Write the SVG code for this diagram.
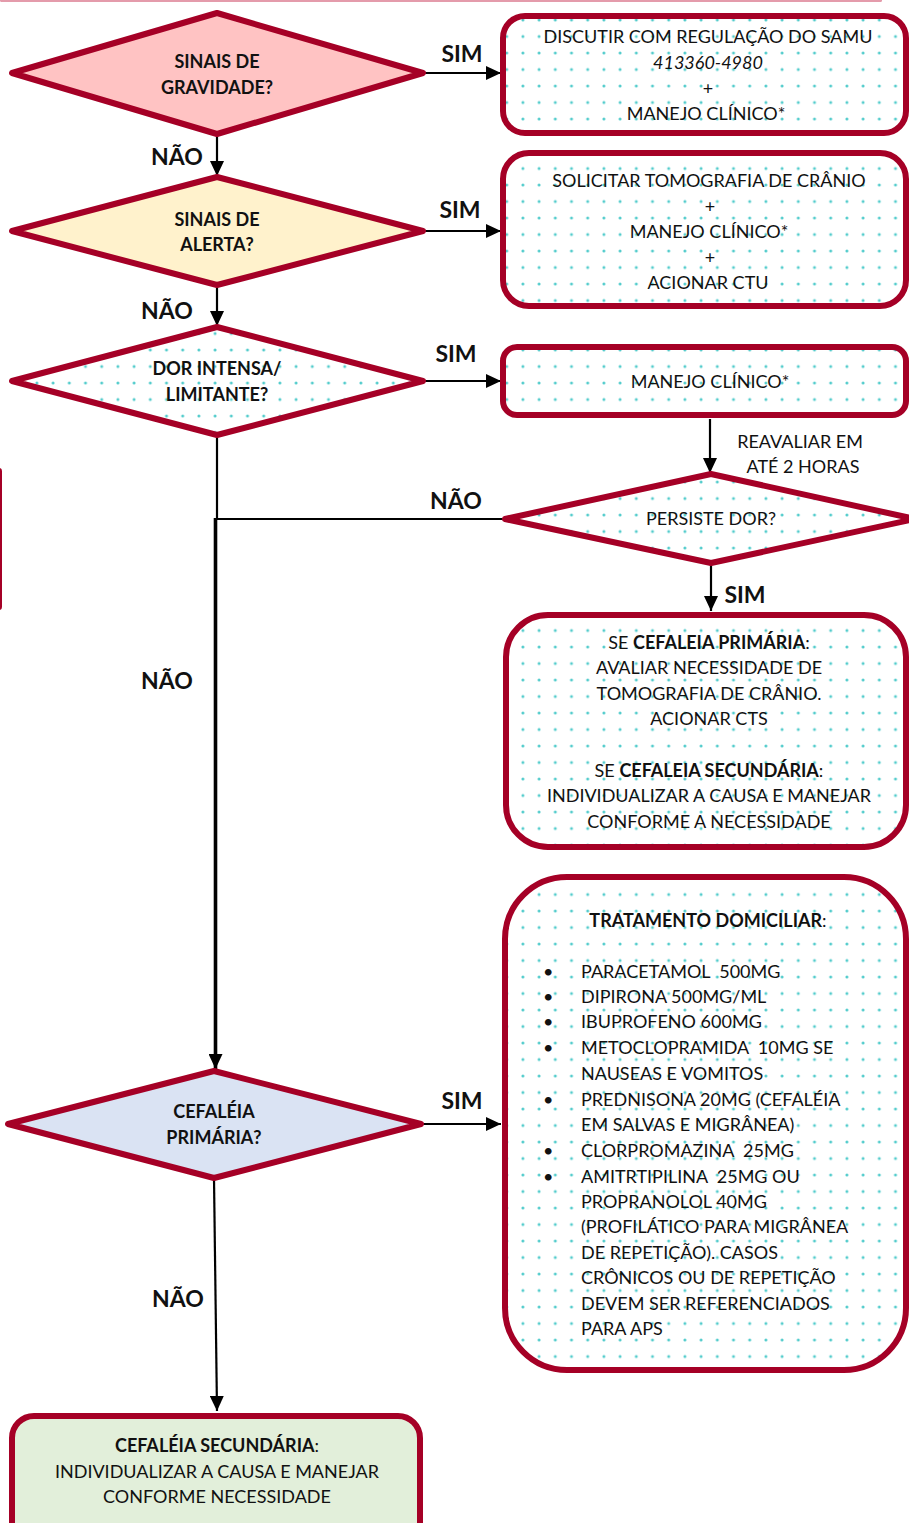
<svg xmlns="http://www.w3.org/2000/svg" width="909" height="1523" viewBox="0 0 909 1523">
<defs>
<pattern id="dots" patternUnits="userSpaceOnUse" x="4.5" y="3.5" width="16.2" height="16.5">
<rect width="16.2" height="16.5" fill="#ffffff"/>
<circle cx="0" cy="0" r="1.5" fill="#52cccc"/>
<circle cx="16.2" cy="0" r="1.5" fill="#52cccc"/>
<circle cx="0" cy="16.5" r="1.5" fill="#52cccc"/>
<circle cx="16.2" cy="16.5" r="1.5" fill="#52cccc"/>
</pattern>
<marker id="arr" markerUnits="userSpaceOnUse" markerWidth="15" markerHeight="14" refX="15" refY="7" orient="auto">
<path d="M0,0 L15,7 L0,14 z" fill="#000"/>
</marker>
<style>
.sh{stroke:#a50026;stroke-width:6;stroke-linejoin:round}
.c{fill:none;stroke:#000;stroke-width:2.2}
.t{font-family:Lato,"Liberation Sans",sans-serif;font-size:18px;fill:#111;text-anchor:middle}
.tl{font-family:Lato,"Liberation Sans",sans-serif;font-size:18px;fill:#111}
.b{font-weight:bold}
.lb{font-family:Lato,"Liberation Sans",sans-serif;font-size:23px;font-weight:bold;fill:#111;text-anchor:middle}
</style>
</defs>
<rect x="0" y="-1" width="882" height="3" rx="1.5" fill="#e49bab"/>
<rect x="-4" y="468" width="6" height="142" rx="3" fill="#a50026"/>

<g id="connectors">
<path class="c" d="M423,73 H501" marker-end="url(#arr)"/>
<path class="c" d="M217,134 V176" marker-end="url(#arr)"/>
<path class="c" d="M423,231 H501" marker-end="url(#arr)"/>
<path class="c" d="M217,285 V326" marker-end="url(#arr)"/>
<path class="c" d="M423,381 H501" marker-end="url(#arr)"/>
<path class="c" d="M710,419 V473" marker-end="url(#arr)"/>
<path class="c" d="M217,435 V520"/>
<path class="c" d="M505,519 H215"/>
<path class="c" d="M215.5,518 V1069" style="stroke-width:3.6" marker-end="url(#arr)"/>
<path class="c" d="M711,563 V611" marker-end="url(#arr)"/>
<path class="c" d="M421,1124 H501" marker-end="url(#arr)"/>
<path class="c" d="M214,1178 L217,1411" marker-end="url(#arr)"/>
<text class="lb" x="462" y="62">SIM</text>
<text class="lb" x="177" y="165">NÃO</text>
<text class="lb" x="460" y="218">SIM</text>
<text class="lb" x="167" y="319">NÃO</text>
<text class="lb" x="456" y="362">SIM</text>
<text class="t" x="800" y="448">REAVALIAR EM</text>
<text class="t" x="803" y="473">ATÉ 2 HORAS</text>
<text class="lb" x="456" y="509">NÃO</text>
<text class="lb" x="745" y="603">SIM</text>
<text class="lb" x="167" y="689">NÃO</text>
<text class="lb" x="462" y="1109">SIM</text>
<text class="lb" x="178" y="1307">NÃO</text>
</g>

<g id="d1">
<polygon class="sh" points="12,73 217,13 423,73 217,134" fill="#ffc3c3"/>
<text class="t b" x="217" y="68">SINAIS DE</text>
<text class="t b" x="217" y="94">GRAVIDADE?</text>
</g>
<g id="d2">
<polygon class="sh" points="12,231 217,177 423,231 217,285" fill="#fff2cc"/>
<text class="t b" x="217" y="226">SINAIS DE</text>
<text class="t b" x="217" y="251">ALERTA?</text>
</g>
<g id="d3">
<polygon class="sh" points="12,381 217,327 423,381 217,435" fill="url(#dots)"/>
<text class="t b" x="217" y="375">DOR INTENSA/</text>
<text class="t b" x="217" y="401">LIMITANTE?</text>
</g>
<g id="d4">
<polygon class="sh" points="505,519 711,474 915,519 711,563" fill="url(#dots)"/>
<text class="t" x="711" y="525">PERSISTE DOR?</text>
</g>
<g id="d5">
<polygon class="sh" points="8,1124 214,1071 421,1124 214,1178" fill="#dae3f3"/>
<text class="t b" x="214" y="1118">CEFALÉIA</text>
<text class="t b" x="214" y="1144">PRIMÁRIA?</text>
</g>

<g id="b1">
<rect class="sh" x="503" y="16" width="403" height="117" rx="22" fill="url(#dots)"/>
<text class="t" x="708" y="43">DISCUTIR COM REGULAÇÃO DO SAMU</text>
<text class="t" x="708" y="69" font-style="italic">413360-4980</text>
<text class="t" x="708" y="95">+</text>
<text class="t" x="706" y="120">MANEJO CLÍNICO*</text>
</g>
<g id="b2">
<rect class="sh" x="503" y="153" width="403" height="153" rx="26" fill="url(#dots)"/>
<text class="t" x="709" y="187">SOLICITAR TOMOGRAFIA DE CRÂNIO</text>
<text class="t" x="710" y="213">+</text>
<text class="t" x="709" y="238">MANEJO CLÍNICO*</text>
<text class="t" x="710" y="264">+</text>
<text class="t" x="708" y="289">ACIONAR CTU</text>
</g>
<g id="b3">
<rect class="sh" x="503" y="347" width="403" height="68" rx="14" fill="url(#dots)"/>
<text class="t" x="710" y="388">MANEJO CLÍNICO*</text>
</g>
<g id="b4">
<rect class="sh" x="506" y="615" width="400" height="232" rx="42" fill="url(#dots)"/>
<text class="t" x="709" y="649">SE <tspan class="b">CEFALEIA PRIMÁRIA</tspan>:</text>
<text class="t" x="709" y="674">AVALIAR NECESSIDADE DE</text>
<text class="t" x="709" y="700">TOMOGRAFIA DE CRÂNIO.</text>
<text class="t" x="709" y="725">ACIONAR CTS</text>
<text class="t" x="709" y="777">SE <tspan class="b">CEFALEIA SECUNDÁRIA</tspan>:</text>
<text class="t" x="709" y="802">INDIVIDUALIZAR A CAUSA E MANEJAR</text>
<text class="t" x="709" y="828">CONFORME A NECESSIDADE</text>
</g>
<g id="b5">
<rect class="sh" x="505" y="877" width="401" height="493" rx="62" fill="url(#dots)"/>
<text class="t" x="708" y="927"><tspan class="b">TRATAMENTO DOMICILIAR</tspan>:</text>
<g class="tl">
<text x="543" y="978">•</text>
<text x="543" y="1003">•</text>
<text x="543" y="1028">•</text>
<text x="543" y="1054">•</text>
<text x="543" y="1106">•</text>
<text x="543" y="1157">•</text>
<text x="543" y="1183">•</text>
<text x="581" y="978">PARACETAMOL&#160; 500MG</text>
<text x="581" y="1003">DIPIRONA 500MG/ML</text>
<text x="581" y="1028">IBUPROFENO 600MG</text>
<text x="581" y="1054">METOCLOPRAMIDA&#160; 10MG SE</text>
<text x="581" y="1080">NAUSEAS E VOMITOS</text>
<text x="581" y="1106">PREDNISONA 20MG (CEFALÉIA</text>
<text x="581" y="1131">EM SALVAS E MIGRÂNEA)</text>
<text x="581" y="1157">CLORPROMAZINA&#160; 25MG</text>
<text x="581" y="1183">AMITRTIPILINA&#160; 25MG OU</text>
<text x="581" y="1208">PROPRANOLOL 40MG</text>
<text x="581" y="1233">(PROFILÁTICO PARA MIGRÂNEA</text>
<text x="581" y="1259">DE REPETIÇÃO). CASOS</text>
<text x="581" y="1284">CRÔNICOS OU DE REPETIÇÃO</text>
<text x="581" y="1310">DEVEM SER REFERENCIADOS</text>
<text x="581" y="1335">PARA APS</text>
</g>
</g>
<g id="b6">
<rect class="sh" x="12" y="1416" width="408" height="130" rx="22" fill="#e2efda"/>
<text class="t" x="217" y="1452"><tspan class="b">CEFALÉIA SECUNDÁRIA</tspan>:</text>
<text class="t" x="217" y="1478">INDIVIDUALIZAR A CAUSA E MANEJAR</text>
<text class="t" x="217" y="1503">CONFORME NECESSIDADE</text>
</g>
</svg>
